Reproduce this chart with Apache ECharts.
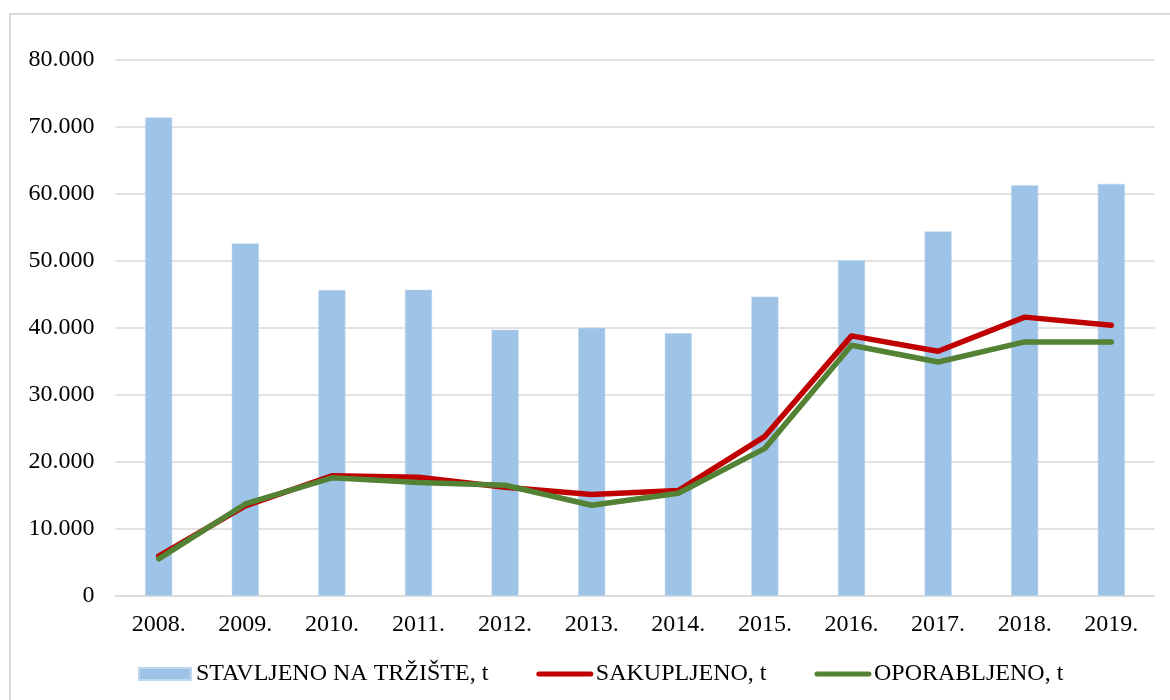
<!DOCTYPE html>
<html>
<head>
<meta charset="utf-8">
<script src="https://cdn.jsdelivr.net/npm/echarts@6/dist/echarts.min.js"></script>
<style>
html,body{margin:0;padding:0;background:#fff;}
#chart{width:1170px;height:700px;}
</style>
</head>
<body>
<div id="chart"></div>
<script>
var categories = ['2008.', '2009.', '2010.', '2011.', '2012.', '2013.', '2014.', '2015.', '2016.', '2017.', '2018.', '2019.'];
var stavljeno = [71400, 52600, 45650, 45700, 39700, 40000, 39200, 44650, 50100, 54400, 61300, 61500];
var sakupljeno = [5900, 13400, 17900, 17700, 16200, 15100, 15700, 23800, 38800, 36500, 41600, 40400];
var oporabljeno = [5500, 13700, 17600, 16900, 16500, 13500, 15300, 22000, 37400, 34900, 37900, 37900];
var seriesNames = ['STAVLJENO NA TRŽIŠTE, t', 'SAKUPLJENO, t', 'OPORABLJENO, t'];

var FONT = "'Liberation Serif', 'Times New Roman', serif";
var chart = echarts.init(document.getElementById('chart'));
chart.setOption({
  animation: false,
  backgroundColor: '#fff',
  textStyle: { fontFamily: FONT },
  graphic: [{
    type: 'rect',
    shape: { x: 10, y: 14, width: 1180, height: 720 },
    style: { fill: 'none', stroke: '#d9d9d9', lineWidth: 2 },
    silent: true
  }],
  grid: { left: 115.4, right: 15.4, top: 60, bottom: 104.3, containLabel: false },
  legend: {
    left: 138,
    top: 662,
    padding: 0,
    itemWidth: 52,
    itemHeight: 12,
    itemGap: 48,
    textStyle: { fontFamily: FONT, fontSize: 24, color: '#000', padding: [2, 0, 0, 0] },
    data: [
      { name: seriesNames[0], icon: 'rect' },
      { name: seriesNames[1], itemStyle: { opacity: 0 }, lineStyle: { width: 5, color: '#C00000', cap: 'round' } },
      { name: seriesNames[2], itemStyle: { opacity: 0 }, lineStyle: { width: 5, color: '#548235', cap: 'round' } }
    ]
  },
  xAxis: {
    type: 'category',
    data: categories,
    axisLine: { lineStyle: { color: '#d9d9d9', width: 1.5 } },
    axisTick: { show: false },
    axisLabel: { fontFamily: FONT, fontSize: 24, color: '#000', margin: 17 }
  },
  yAxis: {
    type: 'value',
    min: 0,
    max: 80000,
    interval: 10000,
    axisLine: { show: false },
    axisTick: { show: false },
    splitLine: { lineStyle: { color: '#d9d9d9', width: 1.5 } },
    axisLabel: {
      fontFamily: FONT, fontSize: 24, color: '#000', margin: 21,
      formatter: function (v) {
        if (v === 0) return '0';
        return String(v).replace(/\B(?=(\d{3})+(?!\d))/g, '.');
      }
    }
  },
  series: [
    {
      name: seriesNames[0],
      type: 'bar',
      data: stavljeno,
      barWidth: 27,
      itemStyle: { color: '#9DC3E6', borderColor: '#BDD7EE', borderWidth: 0.5 }
    },
    {
      name: seriesNames[1],
      type: 'line',
      data: sakupljeno,
      symbol: 'none',
      lineStyle: { color: '#C00000', width: 5.5, cap: 'round', join: 'round' },
      itemStyle: { color: '#C00000' }
    },
    {
      name: seriesNames[2],
      type: 'line',
      data: oporabljeno,
      symbol: 'none',
      lineStyle: { color: '#548235', width: 5.5, cap: 'round', join: 'round' },
      itemStyle: { color: '#548235' }
    }
  ]
});
</script>
</body>
</html>
